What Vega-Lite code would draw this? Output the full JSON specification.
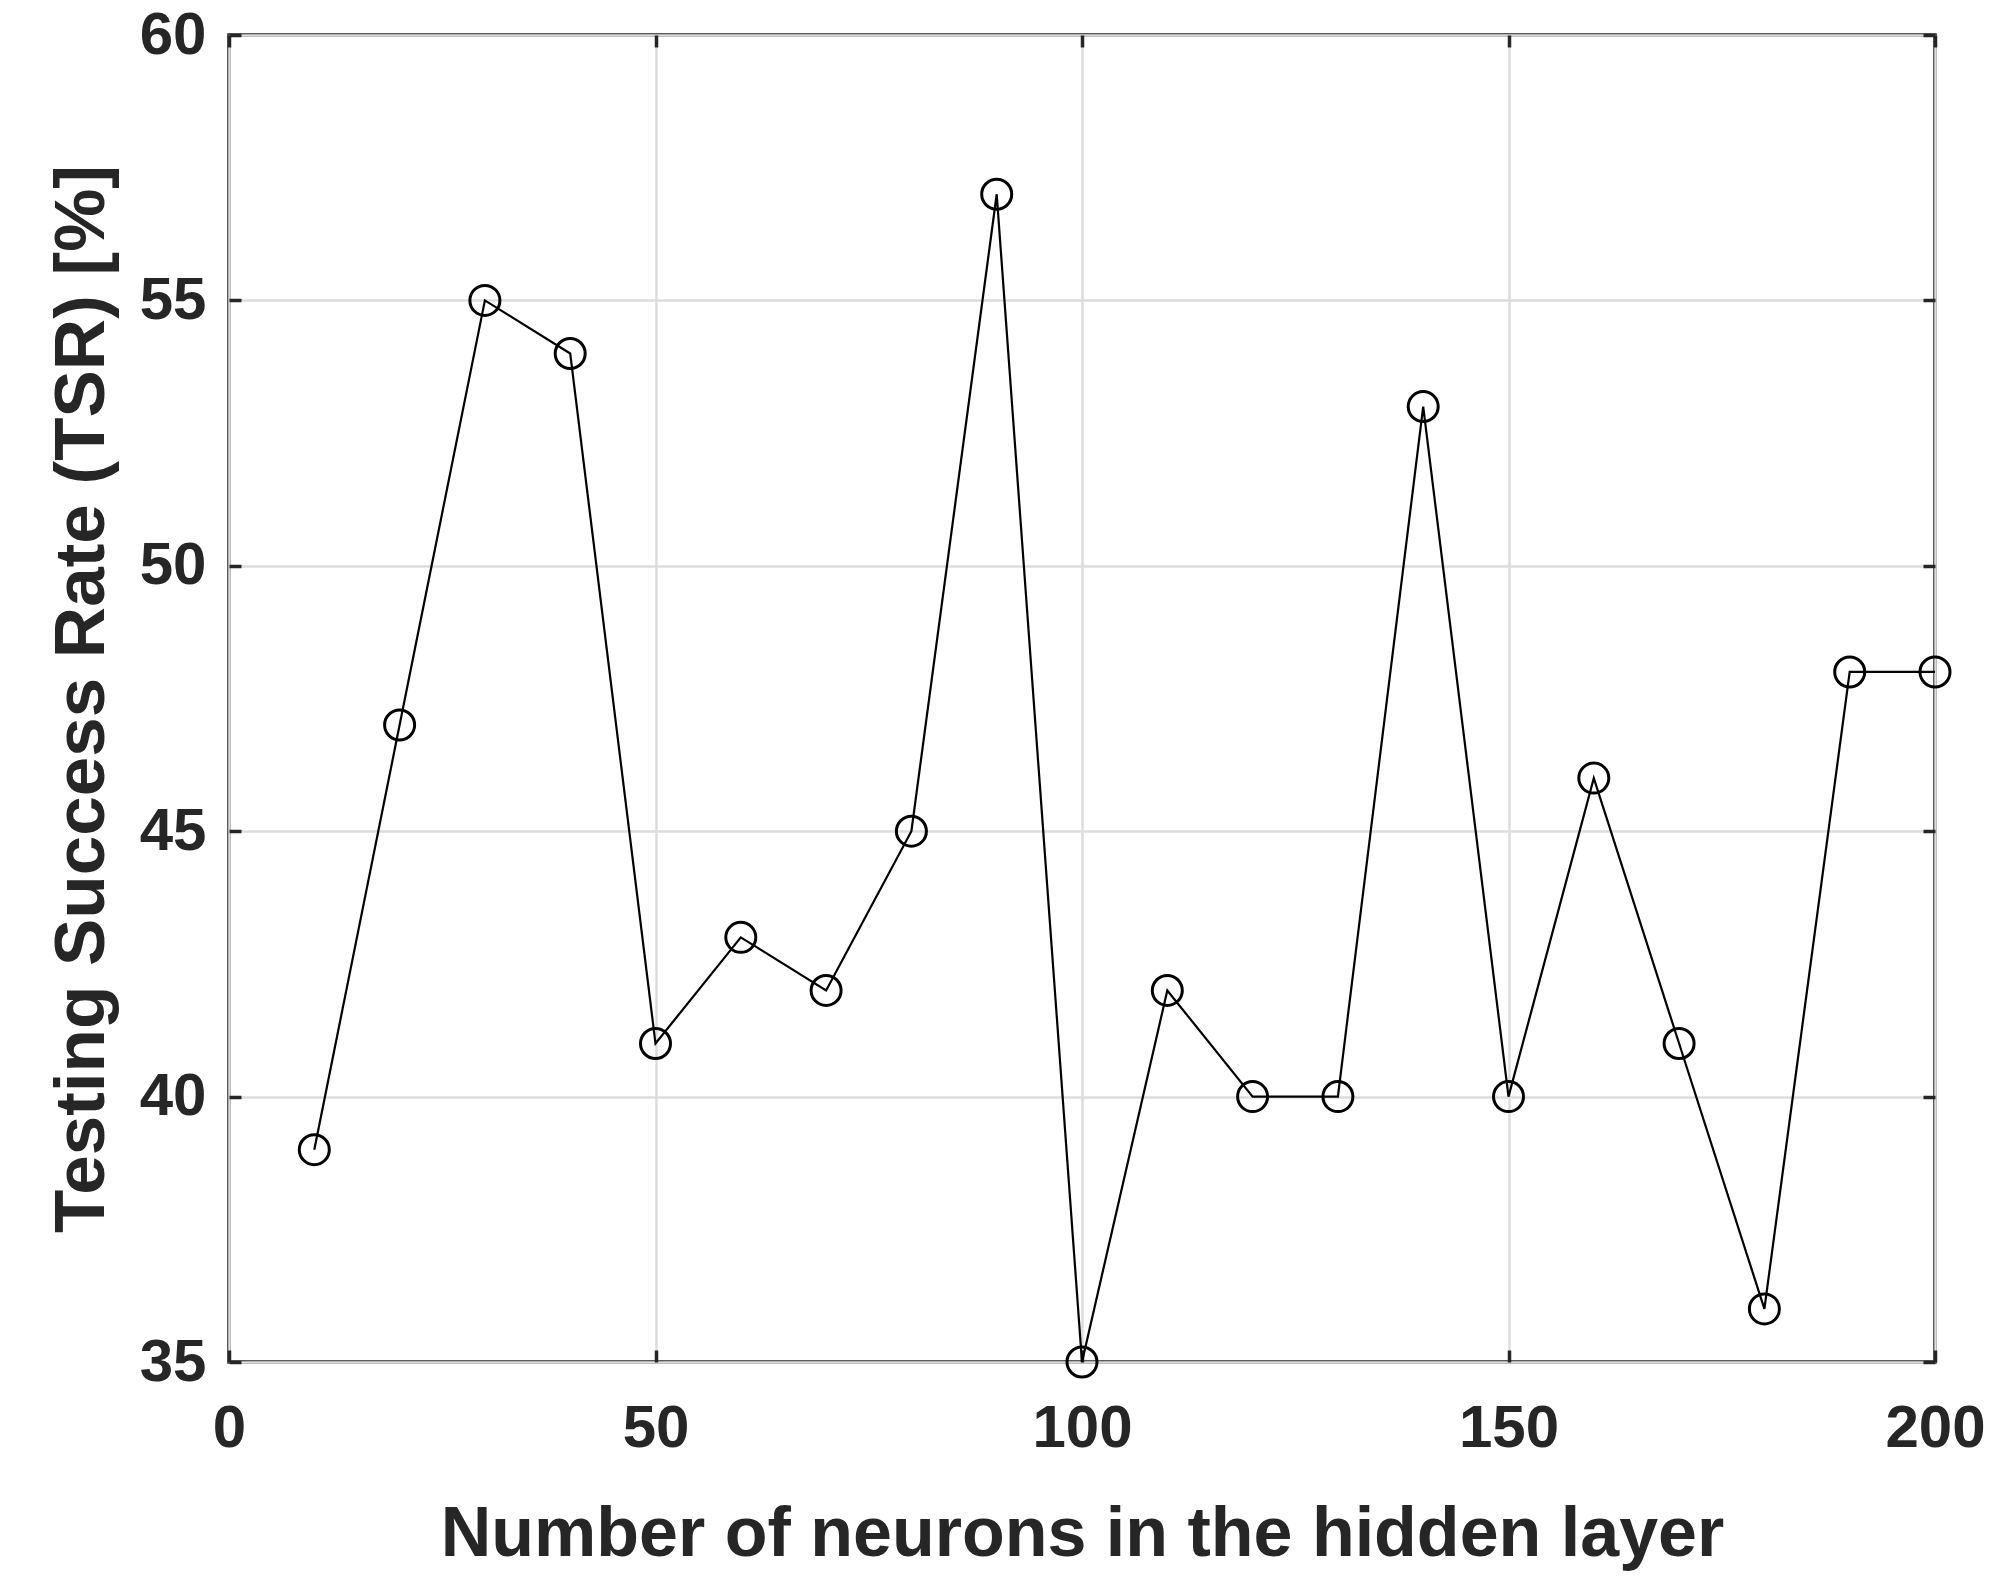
{
  "$schema": "https://vega.github.io/schema/vega-lite/v6.json",
  "width": 1706,
  "height": 1327,
  "autosize": {"type": "none"},
  "padding": {"left": 229, "top": 35, "right": 73, "bottom": 224},
  "background": "white",
  "config": {
    "view": {"stroke": "#262626", "strokeWidth": 3.5},
    "font": "Liberation Sans"
  },
  "data": {
    "values": [
      {"neurons": 10, "tsr": 39},
      {"neurons": 20, "tsr": 47},
      {"neurons": 30, "tsr": 55},
      {"neurons": 40, "tsr": 54},
      {"neurons": 50, "tsr": 41},
      {"neurons": 60, "tsr": 43},
      {"neurons": 70, "tsr": 42},
      {"neurons": 80, "tsr": 45},
      {"neurons": 90, "tsr": 57},
      {"neurons": 100, "tsr": 35},
      {"neurons": 110, "tsr": 42},
      {"neurons": 120, "tsr": 40},
      {"neurons": 130, "tsr": 40},
      {"neurons": 140, "tsr": 53},
      {"neurons": 150, "tsr": 40},
      {"neurons": 160, "tsr": 46},
      {"neurons": 170, "tsr": 41},
      {"neurons": 180, "tsr": 36},
      {"neurons": 190, "tsr": 48},
      {"neurons": 200, "tsr": 48}
    ]
  },
  "layer": [
    {
      "mark": {"type": "line", "color": "black", "strokeWidth": 2.2, "clip": false},
      "encoding": {
        "x": {
          "field": "neurons", "type": "quantitative",
          "scale": {"domain": [0, 200], "nice": false},
          "axis": {
            "orient": "bottom", "values": [0, 50, 100, 150, 200],
            "grid": true, "gridColor": "#dcdcdc", "gridWidth": 2.5,
            "domain": false, "ticks": true, "tickSize": -12, "tickWidth": 3.5, "tickColor": "#262626",
            "labelFont": "Liberation Sans", "labelFontWeight": "bold", "labelFontSize": 60, "labelColor": "#262626",
            "labelPadding": 49, "labelFlush": false, "labelOverlap": false,
            "title": "Number of neurons in the hidden layer",
            "titleFont": "Liberation Sans", "titleFontWeight": "bold", "titleFontSize": 70, "titleColor": "#262626",
            "titlePadding": 42
          }
        },
        "y": {
          "field": "tsr", "type": "quantitative",
          "scale": {"domain": [35, 60], "nice": false, "zero": false},
          "axis": {
            "orient": "left", "values": [35, 40, 45, 50, 55, 60],
            "grid": true, "gridColor": "#dcdcdc", "gridWidth": 2.5,
            "domain": false, "ticks": true, "tickSize": -12, "tickWidth": 3.5, "tickColor": "#262626",
            "labelFont": "Liberation Sans", "labelFontWeight": "bold", "labelFontSize": 60, "labelColor": "#262626",
            "labelPadding": 35, "labelFlush": false, "labelOverlap": false,
            "title": "Testing Success Rate (TSR) [%]",
            "titleFont": "Liberation Sans", "titleFontWeight": "bold", "titleFontSize": 71, "titleColor": "#262626",
            "titlePadding": 21
          }
        }
      }
    },
    {
      "mark": {"type": "point", "shape": "circle", "size": 900, "filled": false, "stroke": "black", "strokeWidth": 3, "opacity": 1, "clip": false},
      "encoding": {
        "x": {"field": "neurons", "type": "quantitative", "scale": {"domain": [0, 200], "nice": false}, "axis": null},
        "y": {"field": "tsr", "type": "quantitative", "scale": {"domain": [35, 60], "nice": false, "zero": false}, "axis": null}
      }
    },
    {
      "mark": {"type": "point", "opacity": 0},
      "encoding": {
        "x": {
          "field": "neurons", "type": "quantitative", "scale": {"domain": [0, 200], "nice": false},
          "axis": {"orient": "top", "values": [0, 50, 100, 150, 200], "grid": false, "domain": false, "labels": false,
                   "tickSize": -12, "tickWidth": 3.5, "tickColor": "#262626", "title": null}
        },
        "y": {
          "field": "tsr", "type": "quantitative", "scale": {"domain": [35, 60], "nice": false, "zero": false},
          "axis": {"orient": "right", "values": [35, 40, 45, 50, 55, 60], "grid": false, "domain": false, "labels": false,
                   "tickSize": -12, "tickWidth": 3.5, "tickColor": "#262626", "title": null}
        }
      }
    }
  ],
  "resolve": {"axis": {"x": "independent", "y": "independent"}}
}
